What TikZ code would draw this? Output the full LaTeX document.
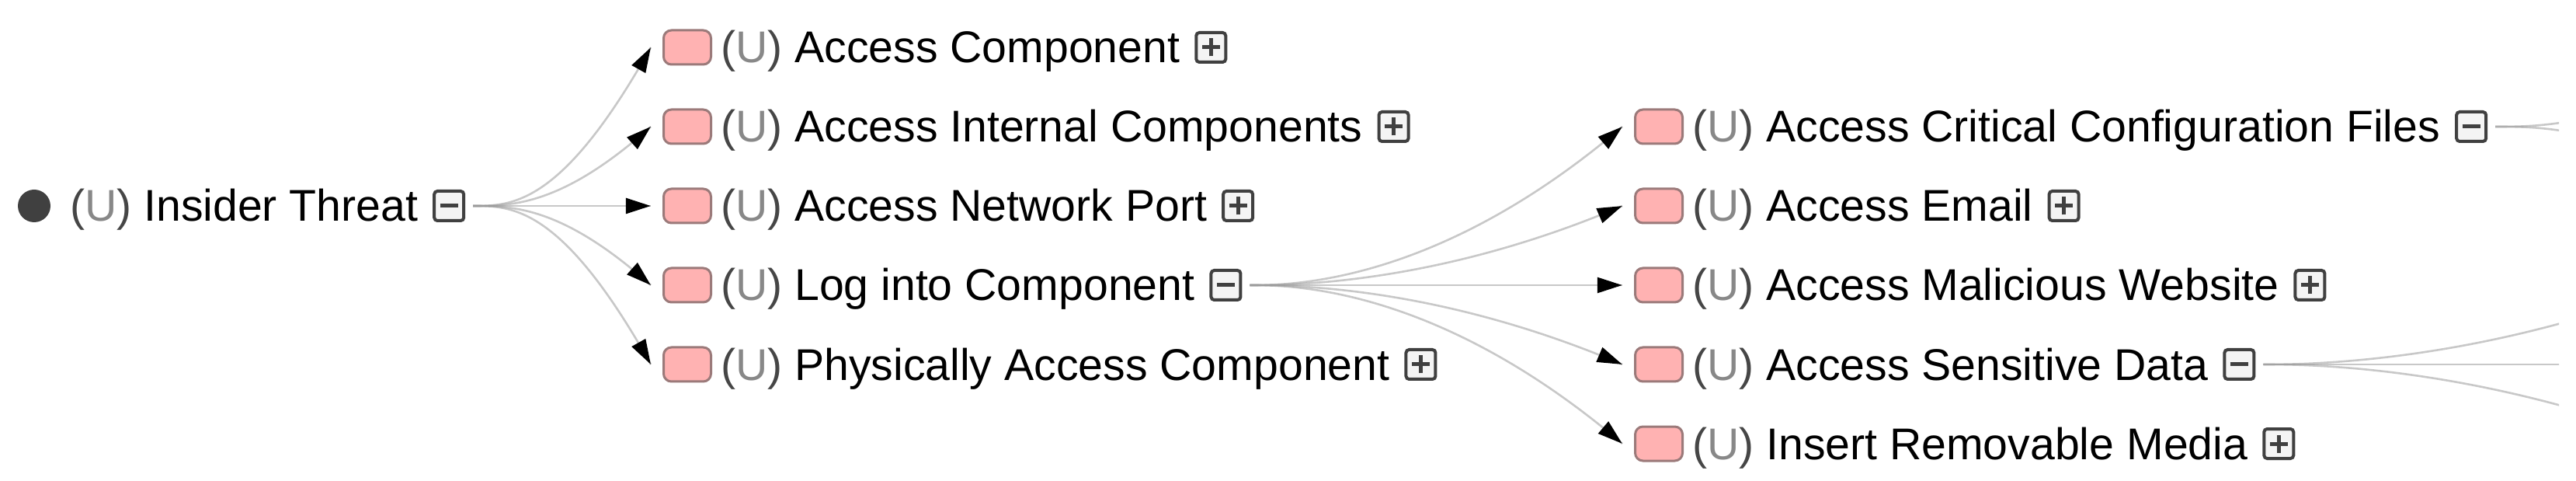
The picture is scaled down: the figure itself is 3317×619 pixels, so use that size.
\documentclass[tikz,border=0pt]{standalone}
\usepackage{fontspec}
\setmainfont{Liberation Sans}
\usetikzlibrary{arrows.meta,calc,decorations.markings}
\definecolor{pinkfill}{RGB}{255,178,178}
\definecolor{pinkdraw}{RGB}{155,122,122}
\definecolor{boxdraw}{RGB}{64,64,64}
\definecolor{boxfill}{RGB}{244,244,244}
\definecolor{ugray}{RGB}{136,136,136}
\definecolor{pgray}{RGB}{70,70,70}
\definecolor{dotcol}{RGB}{64,64,64}
\newcommand\UU{\textcolor{pgray}{(}\textcolor{ugray}{U}\textcolor{pgray}{)}}
\tikzset{
  lbl/.style={anchor=base west, inner sep=0pt, outer sep=0pt, font=\fontsize{28.6pt}{34pt}\selectfont},
  pinkbox/.style={draw=pinkdraw, fill=pinkfill, line width=1.5pt, rounded corners=5pt,
    minimum width=30.5pt, minimum height=22pt, inner sep=0pt},
  tbox/.style={draw=boxdraw, fill=boxfill, line width=2pt, rounded corners=2pt,
    minimum size=19pt, inner sep=0pt, anchor=west},
  hbar/.style={path picture={\draw[boxdraw, line width=2.5pt]
    ([xshift=-5.75pt]path picture bounding box.center) -- ([xshift=5.75pt]path picture bounding box.center);}},
  plusbox/.style={tbox, path picture={\draw[boxdraw, line width=2.5pt]
    ([xshift=-5.75pt]path picture bounding box.center) -- ([xshift=5.75pt]path picture bounding box.center)
    ([yshift=-5.75pt]path picture bounding box.center) -- ([yshift=5.75pt]path picture bounding box.center);}},
  minusbox/.style={tbox, hbar},
  rootdot/.style={circle, fill=dotcol, minimum size=21pt, inner sep=0pt},
  edge/.style={draw=black!40, draw opacity=0.54, line width=1.3pt, postaction={decorate},
    decoration={markings, mark=at position 0.9995 with {\pgfsetstrokeopacity{1}\pgfsetfillopacity{1}\pgfsetcolor{black}\arrow{Triangle[length=16pt,width=10pt]}}}},
}
\newcommand\tlink[2]{\path[edge] let \p1=([xshift=5pt]#1.east), \p2=([xshift=-7.5pt]#2.west) in
  (\p1) .. controls ([xshift=25pt]\p1) and ({0.5*\x1+0.5*\x2},\y1) .. (\p2);}
\newcommand\tlinkc[2]{\path[edge] let \p1=([xshift=5pt]#1.east), \p2=(#2) in
  (\p1) .. controls ([xshift=25pt]\p1) and ({0.5*\x1+0.5*\x2},\y1) .. (\p2);}
\begin{document}
\begin{tikzpicture}[x=0.5pt,y=-0.5pt]
\useasboundingbox (0,0) rectangle (3317,619);
% root
\node[rootdot] (root) at (44,265) {};
\node[lbl] (t0) at (90,285) {\UU\ Insider Threat};
\node[minusbox] (b0) at ($(t0.base east)+(19,-20)$) {};
% level 1
\node[pinkbox] (p11) at (885,61) {};
\node[lbl] (t11) at (928,81) {\UU\ Access Component};
\node[plusbox] (b11) at ($(t11.base east)+(19,-20)$) {};
\node[pinkbox] (p12) at (885,163) {};
\node[lbl] (t12) at (928,183) {\UU\ Access Internal Components};
\node[plusbox] (b12) at ($(t12.base east)+(19,-20)$) {};
\node[pinkbox] (p13) at (885,265) {};
\node[lbl] (t13) at (928,285) {\UU\ Access Network Port};
\node[plusbox] (b13) at ($(t13.base east)+(19,-20)$) {};
\node[pinkbox] (p14) at (885,367) {};
\node[lbl] (t14) at (928,387) {\UU\ Log into Component};
\node[minusbox] (b14) at ($(t14.base east)+(19,-20)$) {};
\node[pinkbox] (p15) at (885,469) {};
\node[lbl] (t15) at (928,489) {\UU\ Physically Access Component};
\node[plusbox] (b15) at ($(t15.base east)+(19,-20)$) {};
% level 2
\node[pinkbox] (p21) at (2136,163) {};
\node[lbl] (t21) at (2179,183) {\UU\ Access Critical Configuration Files};
\node[minusbox] (b21) at ($(t21.base east)+(19,-20)$) {};
\node[pinkbox] (p22) at (2136,265) {};
\node[lbl] (t22) at (2179,285) {\UU\ Access Email};
\node[plusbox] (b22) at ($(t22.base east)+(19,-20)$) {};
\node[pinkbox] (p23) at (2136,367) {};
\node[lbl] (t23) at (2179,387) {\UU\ Access Malicious Website};
\node[plusbox] (b23) at ($(t23.base east)+(19,-20)$) {};
\node[pinkbox] (p24) at (2136,469) {};
\node[lbl] (t24) at (2179,489) {\UU\ Access Sensitive Data};
\node[minusbox] (b24) at ($(t24.base east)+(19,-20)$) {};
\node[pinkbox] (p25) at (2136,571) {};
\node[lbl] (t25) at (2179,591) {\UU\ Insert Removable Media};
\node[plusbox] (b25) at ($(t25.base east)+(19,-20)$) {};
% off-view children
\coordinate (c211) at (3448,112);
\coordinate (c212) at (3448,214);
\coordinate (c241) at (3448,367);
\coordinate (c242) at (3448,469);
\coordinate (c243) at (3448,571);
\begin{scope}
\clip (0,0) rectangle (3295,619);
\tlink{b0}{p11}
\tlink{b0}{p12}
\tlink{b0}{p13}
\tlink{b0}{p14}
\tlink{b0}{p15}
\tlink{b14}{p21}
\tlink{b14}{p22}
\tlink{b14}{p23}
\tlink{b14}{p24}
\tlink{b14}{p25}
\tlinkc{b21}{c211}
\tlinkc{b21}{c212}
\tlinkc{b24}{c241}
\tlinkc{b24}{c242}
\tlinkc{b24}{c243}
\end{scope}
\end{tikzpicture}
\end{document}
